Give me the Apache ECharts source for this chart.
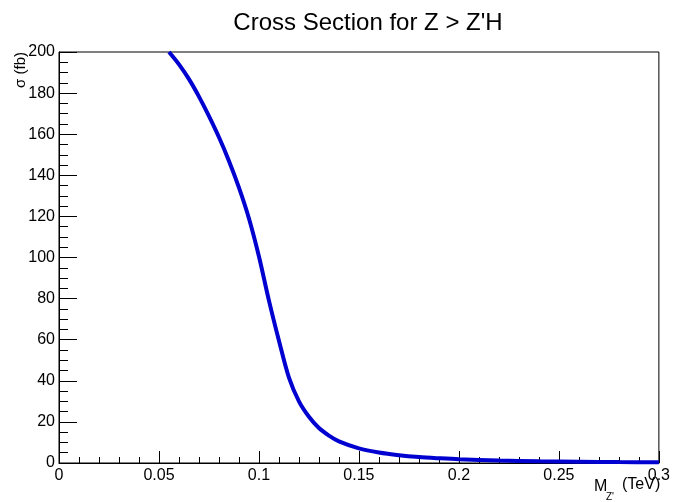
<!DOCTYPE html>
<html>
<head>
<meta charset="utf-8">
<script src="https://cdn.jsdelivr.net/npm/echarts@6/dist/echarts.min.js"></script>
<style>
  html, body { margin: 0; padding: 0; background: #fff; }
  #chart { width: 673px; height: 502px; }
</style>
</head>
<body>
<div id="chart"></div>
<script>
  // cross section vs Z' mass
  var massTeV = [0.055, 0.06, 0.065, 0.07, 0.075, 0.08, 0.085, 0.09, 0.095, 0.1,
    0.105, 0.11, 0.115, 0.12, 0.125, 0.13, 0.135, 0.14, 0.15, 0.16,
    0.17, 0.18, 0.19, 0.2, 0.22, 0.24, 0.26, 0.28, 0.3];
  var sigmaFb = [200, 194, 186.8, 178.3, 168.8, 158.5, 147, 134, 119, 100.5,
    79, 59.5, 41.5, 30, 22.5, 17, 13.3, 10.5, 7.1, 5.1,
    3.8, 2.9, 2.3, 1.8, 1.2, 0.8, 0.6, 0.45, 0.35];

  var font = "Liberation Sans, Arial, sans-serif";
  var chart = echarts.init(document.getElementById("chart"));

  chart.setOption({
    animation: false,
    backgroundColor: "#fff",
    title: {
      text: "Cross Section for Z > Z'H",
      left: 363,
      top: 6,
      textAlign: "center",
      textStyle: { fontFamily: font, fontWeight: "normal", fontSize: 24, color: "#000" }
    },
    grid: {
      left: 59, right: 9, top: 52, bottom: 39,
      show: true, borderColor: "#000", borderWidth: 1
    },
    xAxis: {
      type: "value",
      min: 0, max: 0.3, interval: 0.05,
      axisLine: { lineStyle: { color: "#000" } },
      axisTick: { inside: true, length: 12, lineStyle: { color: "#000" } },
      minorTick: { show: true, splitNumber: 5, length: 6, lineStyle: { color: "#000" } },
      splitLine: { show: false },
      axisLabel: {
        margin: 5, color: "#000", fontFamily: font, fontSize: 16,
        formatter: function (v) { return String(+v.toFixed(2)); }
      }
    },
    yAxis: {
      type: "value",
      min: 0, max: 200, interval: 20,
      axisLine: { lineStyle: { color: "#000" } },
      axisTick: { inside: true, length: 18, lineStyle: { color: "#000" } },
      minorTick: { show: true, splitNumber: 4, length: 9, lineStyle: { color: "#000" } },
      splitLine: { show: false },
      axisLabel: { margin: 4, color: "#000", fontFamily: font, fontSize: 16 }
    },
    graphic: [
      {
        type: "text", x: 21, y: 70, rotation: Math.PI / 2,
        style: { text: "\u03c3 (fb)", font: "15px " + font, fill: "#000", align: "center", verticalAlign: "middle" }
      },
      {
        type: "text", x: 594, y: 479,
        style: { text: "M", font: "16px " + font, fill: "#000" }
      },
      {
        type: "text", x: 606, y: 492,
        style: { text: "Z'", font: "10px " + font, fill: "#000" }
      },
      {
        type: "text", x: 622, y: 477,
        style: { text: "(TeV)", font: "16px " + font, fill: "#000" }
      }
    ],
    series: [{
      type: "line",
      smooth: 0.3,
      showSymbol: false,
      clip: true,
      lineStyle: { color: "#0000d0", width: 4 },
      data: massTeV.map(function (m, i) { return [m, sigmaFb[i]]; })
    }]
  });
</script>
</body>
</html>
